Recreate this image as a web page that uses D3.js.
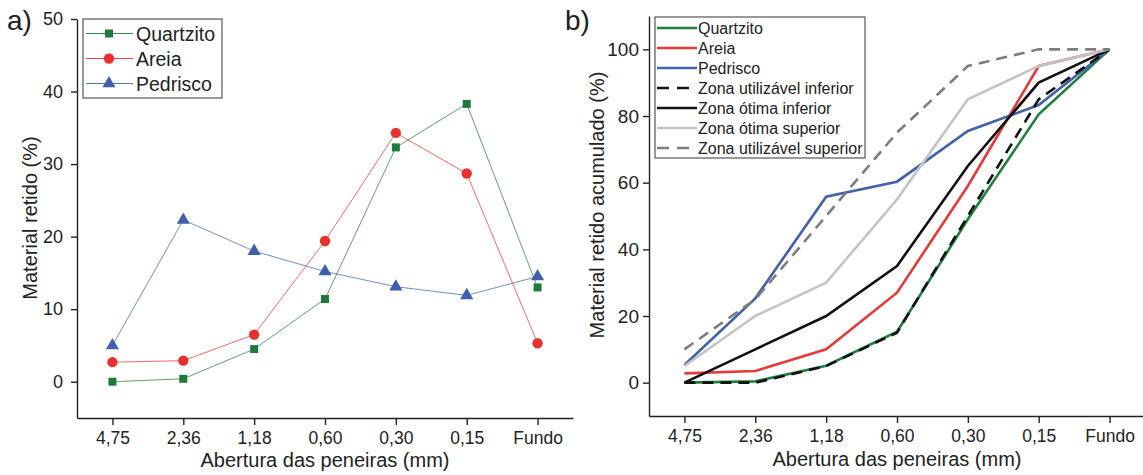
<!DOCTYPE html>
<html>
<head>
<meta charset="utf-8">
<script src="https://cdn.jsdelivr.net/npm/d3@7"></script>
<style>
  body { margin: 0; background: #fff; }
  svg { font-family: "Liberation Sans", Arial, sans-serif; }
  .axis path, .axis line { stroke: #222; stroke-width: 1.4; }
  .axis text { fill: #222; }
</style>
</head>
<body>
<div id="chart"></div>
<script>
// sieve openings (categories)
var sieves = ["4,75", "2,36", "1,18", "0,60", "0,30", "0,15", "Fundo"];

// a) retained material (%)
var quartzitoRet = [0, 0.4, 4.5, 11.4, 32.3, 38.3, 13.0];
var areiaRet = [2.7, 2.9, 6.5, 19.4, 34.3, 28.7, 5.3];
var pedriscoRet = [5.0, 22.3, 18.0, 15.2, 13.1, 11.9, 14.5];

// b) cumulative retained (%)
var quartzitoAcc = [0, 0.4, 5.1, 15.3, 49, 80.5, 100];
var areiaAcc = [2.8, 3.5, 10, 27, 59, 95, 100];
var pedriscoAcc = [5.3, 25.3, 55.8, 60.3, 75.5, 83.3, 100];
var zonaUtilInf = [0, 0, 5, 15, 50, 85, 100];
var zonaOtimaInf = [0, 10, 20, 35, 65, 90, 100];
var zonaOtimaSup = [5, 20, 30, 55, 85, 95, 100];
var zonaUtilSup = [10, 25, 50, 75, 95, 100, 100];

var leftTicks = [0, 10, 20, 30, 40, 50];
var rightTicks = [0, 20, 40, 60, 80, 100];

var svg = d3.select("#chart").append("svg")
  .attr("width", 1143)
  .attr("height", 475);

// ---------- a) ----------
var xA = d3.scalePoint().domain(sieves).range([77, 573]).padding(0.5);
var yA = d3.scaleLinear().domain([-5, 50]).range([418, 19]);

svg.append("g").attr("class", "axis")
  .attr("transform", "translate(0,418)")
  .call(d3.axisBottom(xA).tickSize(7).tickSizeOuter(0).tickPadding(7))
  .selectAll("text").style("font-size", "17.5px");

svg.append("g").attr("class", "axis")
  .attr("transform", "translate(77,0)")
  .call(d3.axisLeft(yA).tickValues(leftTicks).tickSize(6).tickSizeOuter(0).tickPadding(8))
  .selectAll("text").style("font-size", "18px");

var seriesA = [
  { name: "Quartzito", values: quartzitoRet, color: "#1d7a3c", shape: d3.symbolSquare, size: 64 },
  { name: "Areia", values: areiaRet, color: "#e8302f", shape: d3.symbolCircle, size: 84 },
  { name: "Pedrisco", values: pedriscoRet, color: "#3f5fae", shape: d3.symbolTriangle, size: 74 }
];

var lineA = d3.line().x(function(d, i) { return xA(sieves[i]); }).y(function(d) { return yA(d); });

seriesA.forEach(function(s) {
  svg.append("path")
    .attr("d", lineA(s.values))
    .attr("fill", "none")
    .attr("stroke", s.color)
    .attr("stroke-width", 0.9)
    .attr("opacity", 0.8);
});
seriesA.forEach(function(s) {
  svg.selectAll(null).data(s.values).enter().append("path")
    .attr("d", d3.symbol().type(s.shape).size(s.size))
    .attr("transform", function(d, i) { return "translate(" + xA(sieves[i]) + "," + yA(d) + ")"; })
    .attr("fill", s.color);
});

// legend a
var legA = svg.append("g");
legA.append("rect").attr("x", 83).attr("y", 19).attr("width", 139).attr("height", 79)
  .attr("fill", "#fff").attr("stroke", "#555").attr("stroke-width", 1.2);
seriesA.forEach(function(s, i) {
  var y = 33.5 + i * 25;
  legA.append("line").attr("x1", 86).attr("x2", 133).attr("y1", y).attr("y2", y)
    .attr("stroke", s.color).attr("stroke-width", 0.9);
  legA.append("path").attr("d", d3.symbol().type(s.shape).size(s.size))
    .attr("transform", "translate(109," + y + ")").attr("fill", s.color);
  legA.append("text").attr("x", 136).attr("y", y + 7).style("font-size", "19.5px")
    .attr("fill", "#222").text(s.name);
});

svg.append("text").attr("x", 7).attr("y", 30).style("font-size", "28px").attr("fill", "#222").text("a)");

svg.append("text")
  .attr("transform", "translate(37,218) rotate(-90)")
  .attr("text-anchor", "middle").style("font-size", "20px").attr("fill", "#222")
  .text("Material retido (%)");

svg.append("text").attr("x", 325).attr("y", 467)
  .attr("text-anchor", "middle").style("font-size", "20px").attr("fill", "#222")
  .text("Abertura das peneiras (mm)");

// ---------- b) ----------
var xB = d3.scalePoint().domain(sieves).range([649, 1145]).padding(0.5);
var yB = d3.scaleLinear().domain([-10, 110]).range([416, 16]);

svg.append("g").attr("class", "axis")
  .attr("transform", "translate(0,416)")
  .call(d3.axisBottom(xB).tickSize(7).tickSizeOuter(0).tickPadding(7))
  .selectAll("text").style("font-size", "17.5px");

svg.append("g").attr("class", "axis")
  .attr("transform", "translate(649,0)")
  .call(d3.axisLeft(yB).tickValues(rightTicks).tickSize(6).tickSizeOuter(0).tickPadding(4))
  .selectAll("text").style("font-size", "19px");

var seriesB = [
  { name: "Quartzito", values: quartzitoAcc, color: "#1d7f3e", dash: null },
  { name: "Areia", values: areiaAcc, color: "#e53a3a", dash: null },
  { name: "Pedrisco", values: pedriscoAcc, color: "#4161ab", dash: null },
  { name: "Zona utilizável inferior", values: zonaUtilInf, color: "#111", dash: "11,7" },
  { name: "Zona ótima inferior", values: zonaOtimaInf, color: "#111", dash: null },
  { name: "Zona ótima superior", values: zonaOtimaSup, color: "#c4c4c4", dash: null },
  { name: "Zona utilizável superior", values: zonaUtilSup, color: "#7d7d7d", dash: "11,7" }
];

var lineB = d3.line().x(function(d, i) { return xB(sieves[i]); }).y(function(d) { return yB(d); });

seriesB.forEach(function(s) {
  svg.append("path")
    .attr("d", lineB(s.values))
    .attr("fill", "none")
    .attr("stroke", s.color)
    .attr("stroke-width", 2.6)
    .attr("stroke-dasharray", s.dash);
});

// legend b
var legB = svg.append("g");
legB.append("rect").attr("x", 655).attr("y", 17).attr("width", 210).attr("height", 141)
  .attr("fill", "#fff").attr("stroke", "#555").attr("stroke-width", 1.2);
seriesB.forEach(function(s, i) {
  var y = 28 + i * 20;
  legB.append("line").attr("x1", 657).attr("x2", 697).attr("y1", y).attr("y2", y)
    .attr("stroke", s.color).attr("stroke-width", 2.6)
    .attr("stroke-dasharray", s.dash ? "12,8" : null);
  legB.append("text").attr("x", 698).attr("y", y + 6).style("font-size", "16px")
    .attr("fill", "#222").text(s.name);
});

svg.append("text").attr("x", 565).attr("y", 30).style("font-size", "28px").attr("fill", "#222").text("b)");

svg.append("text")
  .attr("transform", "translate(604,205) rotate(-90)")
  .attr("text-anchor", "middle").style("font-size", "20px").attr("fill", "#222")
  .text("Material retido acumulado (%)");

svg.append("text").attr("x", 897).attr("y", 466)
  .attr("text-anchor", "middle").style("font-size", "20px").attr("fill", "#222")
  .text("Abertura das peneiras (mm)");
</script>
</body>
</html>
